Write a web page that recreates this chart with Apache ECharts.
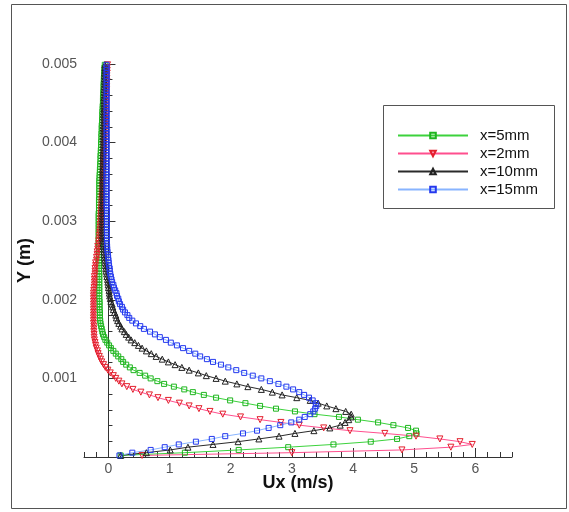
<!DOCTYPE html>
<html>
<head>
<meta charset="utf-8">
<script src="https://cdn.jsdelivr.net/npm/echarts@6/dist/echarts.min.js"></script>
<style>
  html, body { margin: 0; padding: 0; background: #fff; }
  #chart { width: 569px; height: 512px; }
</style>
</head>
<body>
<div id="chart"></div>
<script>
// Wall-normal positions (mm), shared by all profiles
const yMm = [
  0.02, 0.055, 0.09, 0.125, 0.16, 0.195, 0.23, 0.265, 0.3, 0.335,
  0.37, 0.405, 0.44, 0.475, 0.51, 0.545, 0.58, 0.615, 0.65, 0.685,
  0.72, 0.755, 0.79, 0.825, 0.86, 0.895, 0.93, 0.965, 1.0, 1.035,
  1.07, 1.105, 1.14, 1.175, 1.21, 1.245, 1.28, 1.315, 1.35, 1.385,
  1.42, 1.455, 1.49, 1.525, 1.56, 1.595, 1.63, 1.665, 1.7, 1.735,
  1.77, 1.805, 1.84, 1.875, 1.91, 1.945, 1.98, 2.015, 2.05, 2.085,
  2.12, 2.155, 2.19, 2.225, 2.26, 2.295, 2.33, 2.365, 2.4, 2.435,
  2.47, 2.505, 2.54, 2.575, 2.61, 2.645, 2.68, 2.715, 2.75, 2.785,
  2.82, 2.855, 2.89, 2.925, 2.96, 2.995, 3.03, 3.065, 3.1, 3.135,
  3.17, 3.205, 3.24, 3.275, 3.31, 3.345, 3.38, 3.415, 3.45, 3.485,
  3.52, 3.555, 3.59, 3.625, 3.66, 3.695, 3.73, 3.765, 3.8, 3.835,
  3.87, 3.905, 3.94, 3.975, 4.01, 4.045, 4.08, 4.115, 4.15, 4.185,
  4.22, 4.255, 4.29, 4.325, 4.36, 4.395, 4.43, 4.465, 4.5, 4.535,
  4.57, 4.605, 4.64, 4.675, 4.71, 4.745, 4.78, 4.815, 4.85, 4.885,
  4.92, 4.955, 4.99
];

// Ux (m/s) for x = 5 mm
const ux5mm = [
  0.2, 1.25, 2.13, 2.94, 3.68, 4.29, 4.72, 4.92, 5.04, 5.03,
  4.90, 4.66, 4.41, 4.08, 3.77, 3.37, 3.05, 2.74, 2.48, 2.24,
  1.99, 1.76, 1.56, 1.38, 1.24, 1.07, 0.91, 0.80, 0.69, 0.60,
  0.51, 0.41, 0.35, 0.29, 0.24, 0.21, 0.16, 0.12, 0.08, 0.04,
  0.01, -0.02, -0.05, -0.07, -0.09, -0.10, -0.11, -0.12, -0.13, -0.135,
  -0.14, -0.14, -0.14, -0.145, -0.145, -0.145, -0.145, -0.15, -0.15, -0.15,
  -0.15, -0.15, -0.15, -0.15, -0.15, -0.15, -0.15, -0.155, -0.155, -0.155,
  -0.155, -0.155, -0.155, -0.155, -0.155, -0.155, -0.155, -0.16, -0.16, -0.16,
  -0.16, -0.16, -0.16, -0.16, -0.16, -0.16, -0.16, -0.16, -0.16, -0.155,
  -0.155, -0.155, -0.155, -0.155, -0.15, -0.15, -0.15, -0.15, -0.15, -0.15,
  -0.15, -0.145, -0.145, -0.14, -0.14, -0.135, -0.135, -0.13, -0.13, -0.13,
  -0.125, -0.125, -0.12, -0.12, -0.12, -0.115, -0.115, -0.115, -0.11, -0.11,
  -0.11, -0.105, -0.105, -0.1, -0.1, -0.1, -0.095, -0.095, -0.09, -0.09,
  -0.09, -0.085, -0.085, -0.08, -0.08, -0.08, -0.075, -0.075, -0.07, -0.07,
  -0.065, -0.065, -0.06
];

// Ux (m/s) for x = 2 mm
const ux2mm = [
  0.55, 3.0, 4.8, 5.6, 5.95, 5.75, 5.42, 5.03, 4.52, 3.95,
  3.52, 3.12, 2.82, 2.48, 2.16, 1.87, 1.66, 1.48, 1.32, 1.16,
  0.98, 0.81, 0.67, 0.53, 0.40, 0.30, 0.22, 0.17, 0.12, 0.08,
  0.03, -0.01, -0.05, -0.08, -0.11, -0.13, -0.15, -0.17, -0.18, -0.20,
  -0.21, -0.22, -0.23, -0.235, -0.235, -0.24, -0.24, -0.24, -0.245, -0.245,
  -0.245, -0.245, -0.245, -0.245, -0.245, -0.245, -0.245, -0.245, -0.245, -0.245,
  -0.24, -0.235, -0.23, -0.23, -0.23, -0.23, -0.22, -0.22, -0.22, -0.21,
  -0.21, -0.195, -0.195, -0.185, -0.185, -0.175, -0.175, -0.16, -0.16, -0.15,
  -0.15, -0.145, -0.14, -0.135, -0.135, -0.13, -0.13, -0.125, -0.125, -0.12,
  -0.12, -0.115, -0.115, -0.11, -0.11, -0.105, -0.105, -0.1, -0.1, -0.095,
  -0.095, -0.09, -0.09, -0.09, -0.085, -0.085, -0.08, -0.08, -0.08, -0.075,
  -0.075, -0.07, -0.07, -0.07, -0.065, -0.065, -0.06, -0.06, -0.06, -0.055,
  -0.055, -0.05, -0.05, -0.05, -0.045, -0.045, -0.045, -0.04, -0.04, -0.04,
  -0.035, -0.035, -0.035, -0.03, -0.03, -0.03, -0.025, -0.025, -0.025, -0.02,
  -0.02, -0.02, -0.015
];

// Ux (m/s) for x = 10 mm
const ux10mm = [
  0.2, 0.62, 1.01, 1.30, 1.71, 2.12, 2.46, 2.79, 3.05, 3.36,
  3.62, 3.79, 3.87, 3.93, 3.97, 3.97, 3.88, 3.72, 3.57, 3.43,
  3.30, 3.08, 2.84, 2.68, 2.50, 2.28, 2.10, 1.91, 1.76, 1.60,
  1.47, 1.32, 1.20, 1.09, 0.98, 0.88, 0.78, 0.70, 0.62, 0.55,
  0.49, 0.43, 0.37, 0.33, 0.29, 0.26, 0.22, 0.20, 0.17, 0.15,
  0.13, 0.12, 0.10, 0.08, 0.07, 0.06, 0.04, 0.03, 0.02, 0.015,
  0.01, 0.0, -0.005, -0.01, -0.015, -0.025, -0.03, -0.04, -0.045, -0.05,
  -0.055, -0.06, -0.065, -0.07, -0.075, -0.08, -0.085, -0.09, -0.095, -0.1,
  -0.1, -0.1, -0.1, -0.1, -0.1, -0.1, -0.1, -0.1, -0.1, -0.1,
  -0.1, -0.1, -0.095, -0.095, -0.095, -0.095, -0.095, -0.095, -0.095, -0.095,
  -0.095, -0.095, -0.095, -0.095, -0.095, -0.09, -0.09, -0.09, -0.09, -0.09,
  -0.09, -0.085, -0.085, -0.085, -0.085, -0.085, -0.085, -0.085, -0.085, -0.085,
  -0.085, -0.08, -0.08, -0.08, -0.08, -0.08, -0.075, -0.075, -0.075, -0.075,
  -0.075, -0.07, -0.07, -0.07, -0.07, -0.065, -0.065, -0.065, -0.065, -0.065,
  -0.06, -0.06, -0.06
];

// Ux (m/s) for x = 15 mm
const ux15mm = [
  0.18, 0.39, 0.69, 0.92, 1.15, 1.43, 1.69, 1.91, 2.20, 2.43,
  2.62, 2.81, 2.99, 3.12, 3.21, 3.30, 3.35, 3.38, 3.40, 3.39,
  3.34, 3.28, 3.20, 3.12, 3.02, 2.91, 2.78, 2.64, 2.50, 2.36,
  2.22, 2.09, 1.96, 1.84, 1.71, 1.61, 1.50, 1.42, 1.32, 1.22,
  1.12, 1.02, 0.94, 0.84, 0.76, 0.68, 0.58, 0.52, 0.45, 0.39,
  0.34, 0.31, 0.27, 0.24, 0.22, 0.19, 0.17, 0.16, 0.14, 0.13,
  0.11, 0.09, 0.08, 0.06, 0.05, 0.04, 0.03, 0.02, 0.02, 0.01,
  0.005, 0.0, -0.005, -0.01, -0.015, -0.02, -0.022, -0.025, -0.025, -0.025,
  -0.025, -0.025, -0.025, -0.025, -0.025, -0.025, -0.025, -0.025, -0.025, -0.025,
  -0.03, -0.03, -0.03, -0.03, -0.03, -0.03, -0.03, -0.03, -0.03, -0.03,
  -0.03, -0.03, -0.03, -0.03, -0.03, -0.03, -0.03, -0.03, -0.03, -0.03,
  -0.03, -0.03, -0.03, -0.03, -0.03, -0.03, -0.03, -0.03, -0.03, -0.03,
  -0.03, -0.03, -0.03, -0.03, -0.03, -0.03, -0.03, -0.03, -0.03, -0.03,
  -0.03, -0.03, -0.03, -0.03, -0.03, -0.03, -0.03, -0.03, -0.03, -0.03,
  -0.03, -0.03, -0.03
];

const seriesNames = ['x=5mm', 'x=2mm', 'x=10mm', 'x=15mm'];
const xMajorTicks = [0, 1, 2, 3, 4, 5, 6];

const FONT = "'Liberation Sans', Arial, sans-serif";
const AXIS_COLOR = '#333';

function pairs(ux) {
  return ux.map((v, i) => [v, yMm[i] / 1000]);
}

function mkSeries(name, ux, lineColor, symbol, symColor, rotate, size) {
  return {
    name: name,
    type: 'line',
    xAxisIndex: 0,
    yAxisIndex: 0,
    data: pairs(ux),
    symbol: symbol,
    symbolSize: size,
    symbolRotate: rotate,
    showAllSymbol: true,
    smooth: false,
    lineStyle: { color: lineColor, width: 1 },
    itemStyle: { color: 'rgba(255,255,255,0)', borderColor: symColor, borderWidth: 1 },
    emphasis: { disabled: true }
  };
}

const chart = echarts.init(document.getElementById('chart'), null, { renderer: 'canvas' });

chart.setOption({
  animation: false,
  backgroundColor: '#ffffff',
  grid: { left: 84, top: 64, width: 428, height: 393, containLabel: false },
  xAxis: [
    {
      type: 'value', min: -0.4, max: 6.6, position: 'bottom',
      name: 'Ux (m/s)', nameLocation: 'middle', nameGap: 17, nameMoveOverlap: false,
      nameTextStyle: { fontFamily: FONT, fontWeight: 'bold', fontSize: 18, color: '#111' },
      axisLine: { show: true, lineStyle: { color: AXIS_COLOR, width: 1 } },
      axisTick: { show: true, inside: true, length: 9, customValues: xMajorTicks, lineStyle: { color: AXIS_COLOR } },
      axisLabel: { customValues: xMajorTicks, margin: 5, fontFamily: FONT, fontSize: 14, color: '#555' },
      splitLine: { show: false }
    },
    {
      type: 'value', min: -0.4, max: 6.6, interval: 0.2, position: 'bottom', offset: 0,
      axisLine: { show: false },
      axisTick: { show: true, inside: true, length: 5, lineStyle: { color: AXIS_COLOR } },
      axisLabel: { show: false },
      splitLine: { show: false }
    }
  ],
  yAxis: [
    {
      type: 'value', min: 0, max: 0.005, interval: 0.001, position: 'left',
      name: 'Y (m)', nameLocation: 'middle', nameGap: 50, nameRotate: 90, nameMoveOverlap: false,
      nameTextStyle: { fontFamily: FONT, fontWeight: 'bold', fontSize: 18, color: '#111' },
      axisLine: { show: true, lineStyle: { color: AXIS_COLOR, width: 1 } },
      axisTick: { show: true, inside: true, length: 7, lineStyle: { color: AXIS_COLOR } },
      axisLabel: { showMinLabel: false, margin: 7, fontFamily: FONT, fontSize: 14, color: '#555',
        formatter: function (v) { return v.toFixed(3); } },
      splitLine: { show: false }
    },
    {
      type: 'value', min: 0, max: 0.005, interval: 0.0002, position: 'left', offset: 0,
      axisLine: { show: false },
      axisTick: { show: true, inside: true, length: 4, lineStyle: { color: AXIS_COLOR } },
      axisLabel: { show: false },
      splitLine: { show: false }
    }
  ],
  legend: {
    data: seriesNames,
    orient: 'vertical',
    left: 397, top: 128,
    padding: 0,
    itemWidth: 70, itemHeight: 7, itemGap: 3,
    textStyle: { fontFamily: FONT, fontSize: 15, color: '#111', lineHeight: 15, padding: [0, 0, 0, 7] },
    selectedMode: false
  },
  graphic: [
    { type: 'rect', silent: true, z: -1,
      shape: { x: 11.5, y: 4.5, width: 555, height: 504 },
      style: { fill: 'none', stroke: '#555', lineWidth: 1 } },
    { type: 'rect', silent: true,
      shape: { x: 383.5, y: 105.5, width: 171, height: 103 },
      style: { fill: '#fff', stroke: '#555', lineWidth: 1 }, z: 0 }
  ],
  series: [
    mkSeries(seriesNames[0], ux5mm, '#3cd23c', 'rect', '#1fb51f', 0, 5),
    mkSeries(seriesNames[1], ux2mm, '#ff4f8e', 'triangle', '#e3202c', 180, 6),
    mkSeries(seriesNames[2], ux10mm, '#2a2a2a', 'triangle', '#222222', 0, 6),
    mkSeries(seriesNames[3], ux15mm, '#88b4ff', 'rect', '#2438ee', 0, 5)
  ]
});
</script>
</body>
</html>
